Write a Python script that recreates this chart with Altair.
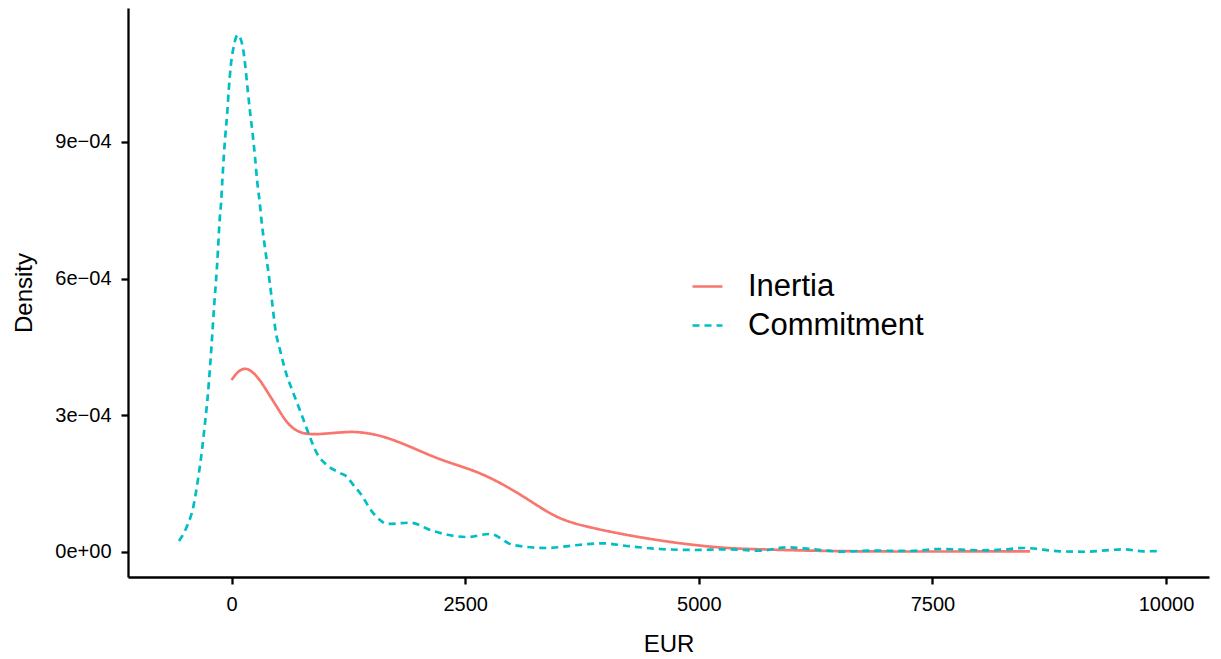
import altair as alt
import pandas as pd

# ---- data (EUR, density) ----
inertia_eur = [0, 70, 144, 219, 305, 391, 484, 591, 698, 840, 1086, 1268, 1375,
               1589, 1875, 2231, 2588, 2838, 3087, 3373, 3551, 3729, 4122, 4585,
               4939, 5299, 5655, 6009, 6369, 6940, 7500, 8000, 8545]
inertia_density = [3.775e-4, 3.973e-4, 4.045e-4, 3.973e-4, 3.775e-4, 3.49e-4,
                   3.189e-4, 2.831e-4, 2.64e-4, 2.568e-4, 2.612e-4, 2.64e-4,
                   2.63e-4, 2.568e-4, 2.349e-4, 2.019e-4, 1.8e-4, 1.56e-4,
                   1.27e-4, 0.88e-4, 0.702e-4, 0.59e-4, 0.41e-4, 0.248e-4,
                   0.154e-4, 0.081e-4, 0.059e-4, 0.037e-4, 0.022e-4, 0.01e-4,
                   0.01e-4, 0.012e-4, 0.015e-4]

commit_eur = [-562, -479, -409, -355, -316, -284, -255, -230, -205, -184, -158,
              -144, -131, -112, -98, -83, -66, -45, -30, -9, 27, 66, 116, 148,
              173, 198, 227, 251, 273, 302, 326, 358, 391, 423, 452, 465, 519,
              583, 661, 751, 822, 912, 1019, 1161, 1233, 1303, 1375, 1514, 1589,
              1661, 1910, 2156, 2517, 2766, 3012, 3373, 3708, 3975, 4229, 4585,
              4939, 5299, 5655, 5941, 6190, 6544, 6865, 7261, 7582, 8042, 8296,
              8470, 8866, 9151, 9401, 9540, 9754, 9936]
commit_density = [0.24e-4, 0.555e-4, 0.994e-4, 1.653e-4, 2.239e-4, 2.831e-4,
                  3.409e-4, 4.067e-4, 4.807e-4, 5.465e-4, 6.19e-4, 6.672e-4,
                  7.177e-4, 7.66e-4, 8.165e-4, 8.676e-4, 9.153e-4, 9.664e-4,
                  10.14e-4, 10.652e-4, 11.128e-4, 11.348e-4, 11.128e-4,
                  10.652e-4, 10.14e-4, 9.664e-4, 9.153e-4, 8.676e-4, 8.165e-4,
                  7.66e-4, 7.177e-4, 6.672e-4, 6.19e-4, 5.685e-4, 5.165e-4,
                  4.945e-4, 4.434e-4, 3.929e-4, 3.49e-4, 3.007e-4, 2.612e-4,
                  2.173e-4, 1.91e-4, 1.734e-4, 1.653e-4, 1.471e-4, 1.295e-4,
                  0.856e-4, 0.702e-4, 0.615e-4, 0.643e-4, 0.461e-4, 0.329e-4,
                  0.395e-4, 0.154e-4, 0.088e-4, 0.154e-4, 0.191e-4, 0.132e-4,
                  0.066e-4, 0.044e-4, 0.059e-4, 0.029e-4, 0.103e-4, 0.066e-4,
                  0.007e-4, 0.029e-4, 0.022e-4, 0.066e-4, 0.037e-4, 0.059e-4,
                  0.088e-4, 0.015e-4, 0.005e-4, 0.044e-4, 0.059e-4, 0.015e-4,
                  0.022e-4]

series = ["Inertia", "Commitment"]
colors = ["#F8766D", "#00BFC4"]
dashes = [[1, 0], [7, 5]]
x_ticks = [0, 2500, 5000, 7500, 10000]
y_ticks = [0, 3e-4, 6e-4, 9e-4]
y_tick_labels = ["0e+00", "3e\u221204", "6e\u221204", "9e\u221204"]

df = pd.concat([
    pd.DataFrame({"eur": inertia_eur, "density": inertia_density, "series": series[0]}),
    pd.DataFrame({"eur": commit_eur, "density": commit_density, "series": series[1]}),
], ignore_index=True)

# label expression built from the tick lists
expr = "'" + y_tick_labels[-1] + "'"
for i in range(len(y_ticks) - 2, -1, -1):
    mid = (y_ticks[i] + y_ticks[i + 1]) / 2
    expr = f"datum.value < {mid} ? '{y_tick_labels[i]}' : ({expr})"

FONT = "Liberation Sans, Arial, Helvetica, sans-serif"
LW = 2.7

legend = alt.Legend(
    title=None, orient="none", legendX=563, legendY=262,
    labelFontSize=31, labelFont=FONT, labelColor="black", labelLimit=0,
    symbolSize=900, symbolStrokeWidth=LW, symbolType="stroke",
    labelOffset=24, rowPadding=7, padding=0,
)

x_enc = alt.X("eur:Q",
              scale=alt.Scale(domain=[-1108, 10460], nice=False, zero=False),
              axis=alt.Axis(values=x_ticks, format="d", title="EUR",
                            titleY=74, titleBaseline="alphabetic"))
y_enc = alt.Y("density:Q",
              scale=alt.Scale(domain=[-0.549e-4, 11.94e-4], nice=False, zero=False),
              axis=alt.Axis(values=y_ticks, labelExpr=expr, title="Density",
                            titleX=-97, titleBaseline="alphabetic"))
color_enc = alt.Color("series:N", scale=alt.Scale(domain=series, range=colors),
                      legend=legend)
dash_enc = alt.StrokeDash("series:N", scale=alt.Scale(domain=series, range=dashes),
                          legend=legend)

base = alt.Chart(df).encode(x=x_enc, y=y_enc, color=color_enc, strokeDash=dash_enc)

inertia_line = base.transform_filter(
    alt.datum.series == series[0]
).mark_line(strokeWidth=LW, interpolate="basis", strokeCap="butt")

commit_line = base.transform_filter(
    alt.datum.series == series[1]
).mark_line(strokeWidth=LW, interpolate="monotone", strokeCap="butt")

chart = alt.layer(inertia_line, commit_line).properties(
    width=1081, height=569,
    padding={"left": 120, "top": 0, "right": 3, "bottom": 78},
    autosize=alt.AutoSizeParams(type="none"),
).configure_view(stroke=None).configure_axis(
    grid=False,
    domainColor="black", domainWidth=2.3,
    tickColor="black", tickWidth=2.3, tickSize=7,
    labelFont=FONT, labelFontSize=20, labelColor="black", labelPadding=10,
    titleFont=FONT, titleFontSize=24, titleFontWeight="normal", titleColor="black",
)

chart.save("out.html", embed_options={"renderer": "svg", "actions": False})
